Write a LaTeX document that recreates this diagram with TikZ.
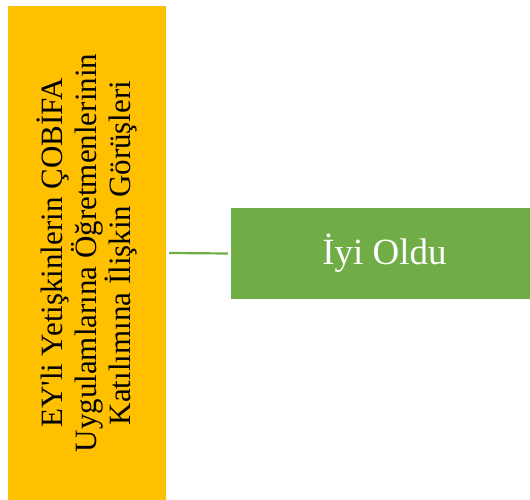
\documentclass[tikz,border=0pt]{standalone}
\usepackage{fontspec}
\setmainfont{Liberation Serif}[Ligatures=TeXOff]
\definecolor{topicorange}{HTML}{FFC000}
\definecolor{leafgreen}{HTML}{70AD47}
\begin{document}
\begin{tikzpicture}[x=1pt,y=-1pt,
  topicbox/.style={fill=topicorange, draw=none, inner sep=0pt, minimum width=158pt, minimum height=494pt},
  leafbox/.style={fill=leafgreen, draw=none, inner sep=0pt, minimum width=299pt, minimum height=91pt,
    text=white, font=\fontsize{37}{40}\selectfont},
  link/.style={draw=leafgreen, line width=2.2pt}]
  \useasboundingbox (0,0) rectangle (530,500);
  \node[topicbox] (topic) at (87,253) {};
  \node[rotate=90, align=center, font=\fontsize{31}{34}\selectfont] (topictext) at (topic.center)
    {EY'li Yetişkinlerin ÇOBİFA\\Uygulamlarına Öğretmenlerinin\\Katılımına İlişkin Görüşleri};
  \node[leafbox] (leaf) at (380.5,253.5) {\hspace*{8pt}İyi Oldu};
  \draw[link] ([xshift=3pt]topic.east) -- ([xshift=-3pt]leaf.west);
\end{tikzpicture}
\end{document}
